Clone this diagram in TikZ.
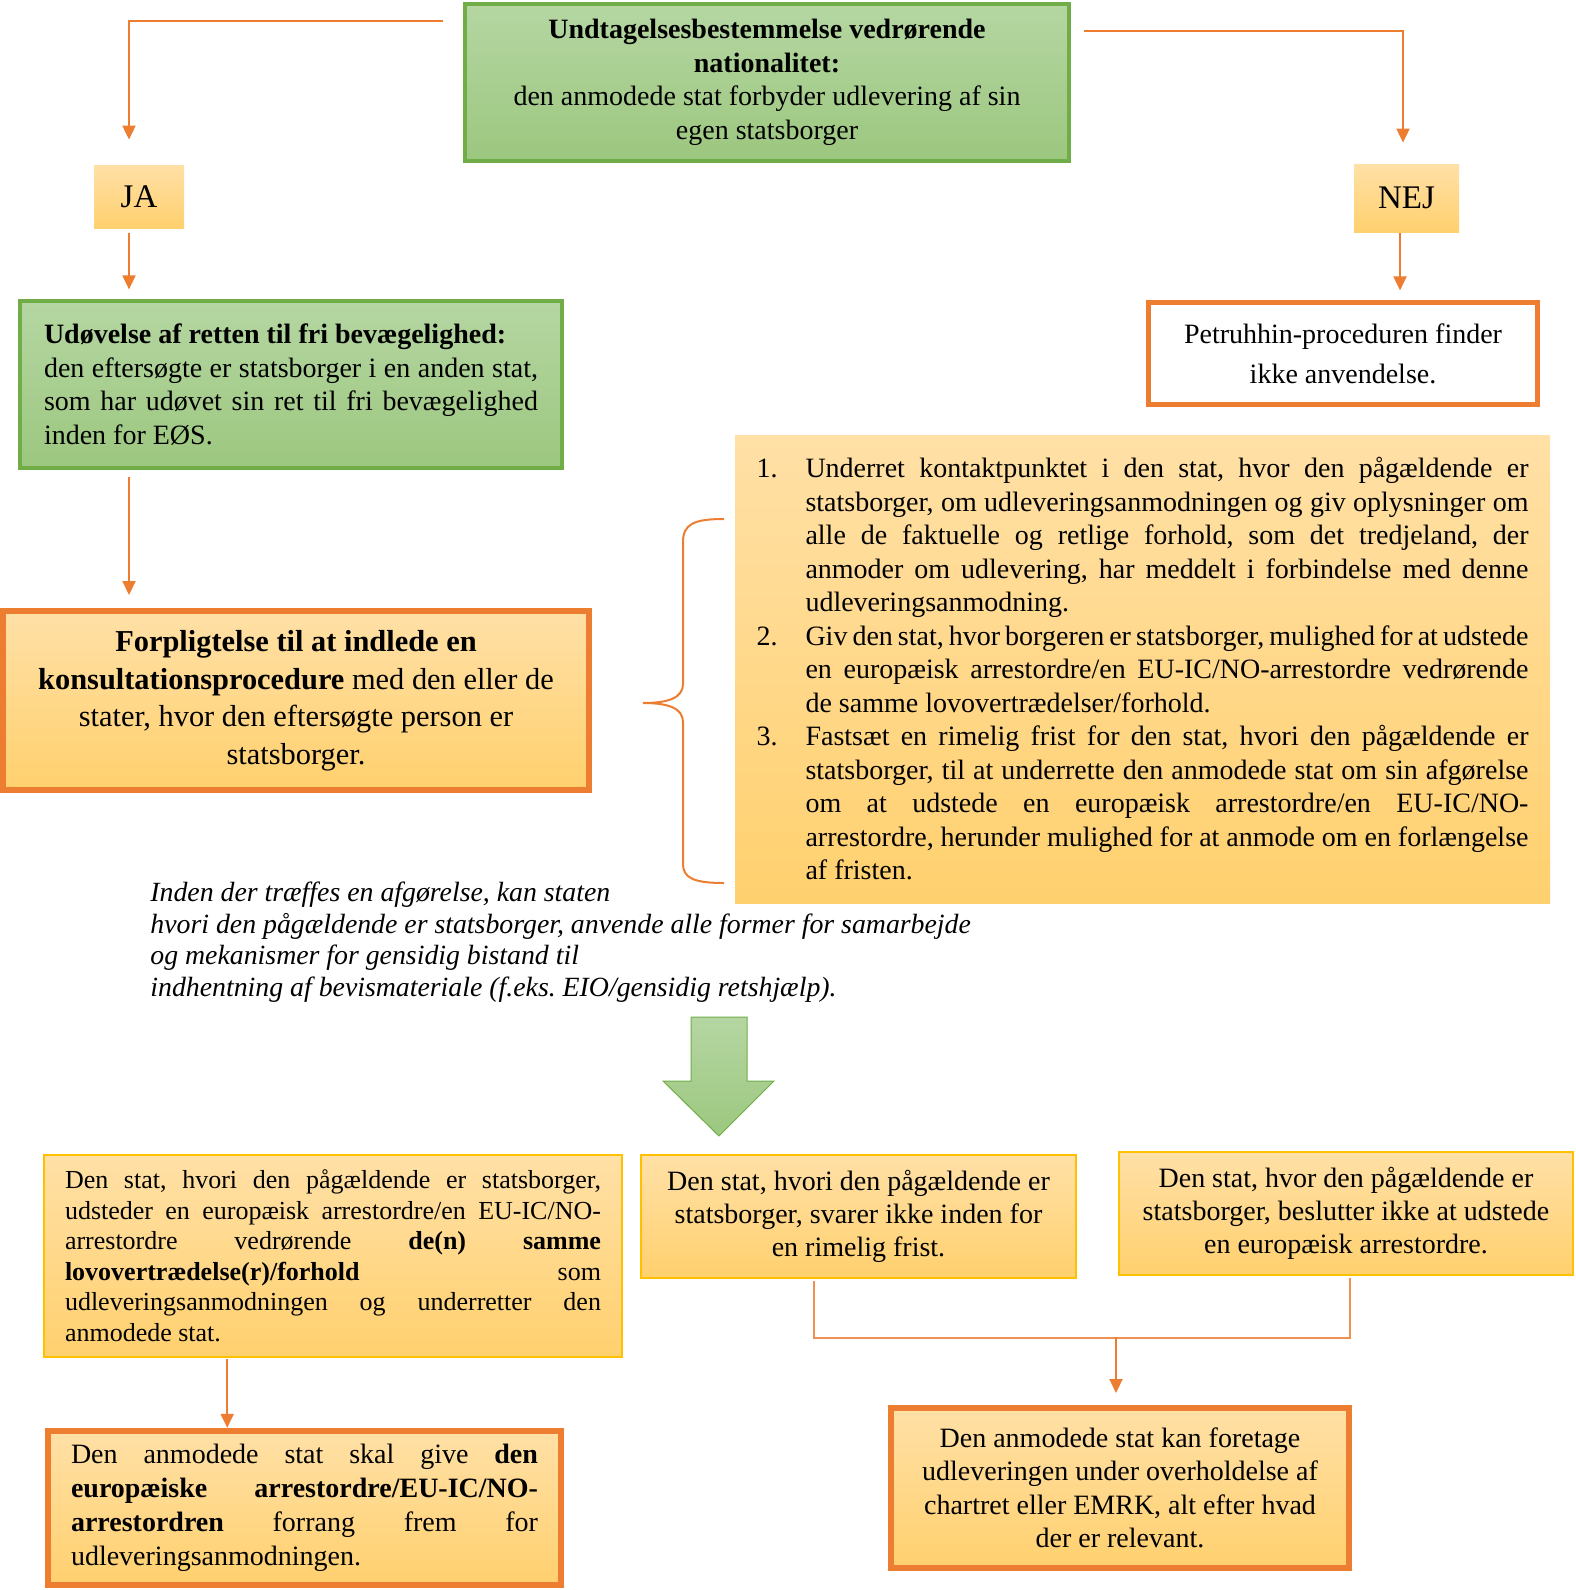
\documentclass[tikz,border=0pt]{standalone}
\usepackage{fontspec}
\setmainfont{Liberation Serif}
\usetikzlibrary{arrows.meta,positioning}

\definecolor{accgreen}{HTML}{70AD47}
\definecolor{greentop}{HTML}{B5D6A2}
\definecolor{greenbot}{HTML}{9CC77F}
\definecolor{accorange}{HTML}{ED7D31}
\definecolor{goldtop}{HTML}{FFE0A6}
\definecolor{goldbot}{HTML}{FFD06E}
\definecolor{goldline}{HTML}{FFC000}

\tolerance=10000
\hyphenpenalty=10000
\frenchspacing

\begin{document}
\begin{tikzpicture}[x=0.5pt,y=-0.5pt,
  greenbox/.style={draw=accgreen, line width=2pt, top color=greentop, bottom color=greenbot, inner sep=0pt},
  goldbox/.style={top color=goldtop, bottom color=goldbot, inner sep=0pt},
  thickorange/.style={goldbox, draw=accorange, line width=3pt},
  thingold/.style={goldbox, draw=goldline, line width=0.8pt},
  conn/.style={draw=accorange, line width=1pt, -{Triangle[length=7pt,width=6.5pt]}},
  joinline/.style={draw=accorange!85, line width=0.7pt},
  txt/.style={font={\fontsize{14}{16.75}\selectfont}}]
  \useasboundingbox (0,0) rectangle (1575,1590);

  % question at the top
  \node[greenbox, txt, align=center, minimum width=302pt, minimum height=78.5pt] (top) at (767,82.5)
    {\textbf{Undtagelsesbestemmelse vedrørende}\\\textbf{nationalitet:}\\den anmodede stat forbyder udlevering af sin\\egen statsborger};

  % yes / no
  \node[goldbox, font={\fontsize{16.5}{20}\selectfont}, minimum width=45pt, minimum height=31.5pt] (ja) at (139,196.5) {JA};
  \node[goldbox, font={\fontsize{16.5}{20}\selectfont}, minimum width=52.5pt, minimum height=34pt] (nej) at (1406.5,198) {NEJ};

  \node[greenbox, txt, text width=247pt, align=justify, minimum width=271pt, minimum height=83.5pt] (free) at (291,384.5)
    {\textbf{Udøvelse af retten til fri bevægelighed:}\\den eftersøgte er statsborger i en anden stat,\linebreak
     som har udøvet sin ret til fri bevægelighed\linebreak inden for EØS.};
  \node[draw=accorange, line width=2.5pt, fill=white, inner sep=0pt, font={\fontsize{14}{20}\selectfont}, align=center,
        minimum width=194.5pt, minimum height=51pt] (petru) at (1343,353.5)
    {Petruhhin-proceduren finder\\ikke anvendelse.};

  \node[thickorange, font={\fontsize{15.2}{18.75}\selectfont}, align=center, minimum width=293pt, minimum height=89.5pt] (oblig) at (296,700.5)
    {\textbf{Forpligtelse til at indlede en}\\\textbf{konsultationsprocedure} med den eller de\\stater, hvor den eftersøgte person er\\statsborger.};

  % the three steps
  \node[goldbox, txt, text width=386pt, align=justify, minimum width=407.5pt, minimum height=234pt] (steps) at (1142.5,669)
    {\noindent\hangindent=24.5pt\hangafter=1\makebox[24.5pt][l]{1.}Underret kontaktpunktet i den stat, hvor den pågældende er\linebreak
     statsborger, om udleveringsanmodningen og giv oplysninger om\linebreak
     alle de faktuelle og retlige forhold, som det tredjeland, der\linebreak
     anmoder om udlevering, har meddelt i forbindelse med denne\linebreak
     udleveringsanmodning.\par
     \noindent\hangindent=24.5pt\hangafter=1\makebox[24.5pt][l]{2.}Giv den stat, hvor borgeren er statsborger, mulighed for at udstede\linebreak
     en europæisk arrestordre/en EU-IC/NO-arrestordre vedrørende\linebreak
     de samme lovovertrædelser/forhold.\par
     \noindent\hangindent=24.5pt\hangafter=1\makebox[24.5pt][l]{3.}Fastsæt en rimelig frist for den stat, hvori den pågældende er\linebreak
     statsborger, til at underrette den anmodede stat om sin afgørelse\linebreak
     om at udstede en europæisk arrestordre/en EU-IC/NO-\linebreak
     arrestordre, herunder mulighed for at anmode om en forlængelse\linebreak
     af fristen.\par};
  \draw[accorange, line width=1pt] (724,519) .. controls (694,519) and (683,524) .. (683,542) -- (683,684)
    .. controls (683,698) and (668,703) .. (643,703) .. controls (668,703) and (683,708) .. (683,722) -- (683,864)
    .. controls (683,878) and (694,883) .. (724,883);

  \node[anchor=north west, inner sep=0pt, align=left, font={\itshape\fontsize{13.9}{15.75}\selectfont}] (note) at (150,882)
    {Inden der træffes en afgørelse, kan staten\\hvori den pågældende er statsborger, anvende alle former for samarbejde\\
     og mekanismer for gensidig bistand til\\indhentning af bevismateriale (f.eks. EIO/gensidig retshjælp).};

  % big green arrow
  \path[draw=accgreen, line width=0.5pt, top color=greentop, bottom color=greenbot]
    (691,1017) -- (747,1017) -- (747,1081) -- (774,1081) -- (719,1136) -- (663,1081) -- (691,1081) -- cycle;

  % outcomes
  \node[thingold, font={\fontsize{13}{15.25}\selectfont}, text width=268pt, align=justify, minimum width=289pt, minimum height=101pt] (issue) at (333,1256)
    {Den stat, hvori den pågældende er statsborger,\linebreak udsteder en europæisk arrestordre/en EU-IC/NO-\linebreak
     arrestordre vedrørende \textbf{de(n) samme}\linebreak \textbf{lovovertrædelse(r)/forhold} som\linebreak
     udleveringsanmodningen og underretter den\linebreak anmodede stat.};
  \node[thingold, font={\fontsize{14}{16.5}\selectfont}, align=center, minimum width=217.5pt, minimum height=61.5pt] (nores) at (858.5,1216.5)
    {Den stat, hvori den pågældende er\\statsborger, svarer ikke inden for\\en rimelig frist.};
  \node[thingold, font={\fontsize{14}{16.5}\selectfont}, align=center, minimum width=227pt, minimum height=61.5pt] (noewa) at (1346,1213.5)
    {Den stat, hvor den pågældende er\\statsborger, beslutter ikke at udstede\\en europæisk arrestordre.};

  \node[thickorange, font={\fontsize{14}{17}\selectfont}, text width=233.5pt, align=justify, minimum width=256.5pt, minimum height=77pt] (prio) at (304.5,1508)
    {Den anmodede stat skal give \textbf{den}\linebreak \textbf{europæiske arrestordre/EU-IC/NO-}\linebreak
     \textbf{arrestordren} forrang frem for\linebreak udleveringsanmodningen.};
  \node[thickorange, txt, align=center, minimum width=229pt, minimum height=80pt] (extr) at (1120,1488)
    {Den anmodede stat kan foretage\\udleveringen under overholdelse af\\chartret eller EMRK, alt efter hvad\\der er relevant.};

  % connectors
  \draw[conn] ([shift={(-20,19)}]top.north west) -| ([shift={(-10,-25)}]ja.north);
  \draw[conn] ([shift={(13,29)}]top.north east) -| ([shift={(-3.5,-21)}]nej.north);
  \draw[conn] ([shift={(-10,5)}]ja.south) -- ++(0,56);
  \draw[conn] ([shift={(-6.5,1)}]nej.south) -- ++(0,57);
  \draw[conn] ([shift={(111,7)}]free.south west) -- ++(0,118);
  \draw[conn] ([shift={(184,1)}]issue.south west) -- ++(0,69);
  \draw[joinline] ([shift={(-44.5,2)}]nores.south) |- ([shift={(4,62)}]noewa.south) -- ([shift={(4,2)}]noewa.south);
  \draw[conn] ([shift={(-4,-68)}]extr.north) -- ([shift={(-4,-12)}]extr.north);
\end{tikzpicture}
\end{document}
